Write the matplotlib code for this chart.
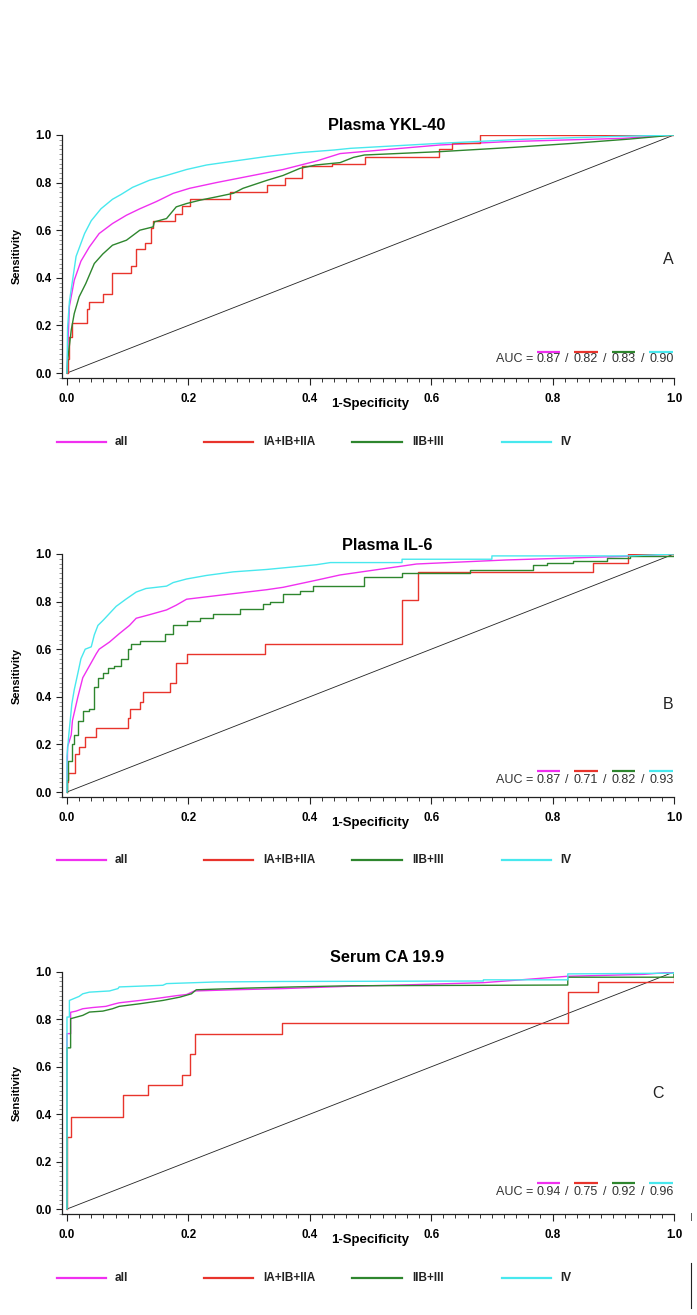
import matplotlib
matplotlib.use('Agg')
import matplotlib.pyplot as plt
from matplotlib.lines import Line2D
from matplotlib.ticker import MultipleLocator, FixedLocator

# ---------------- data ----------------
series_names = ['all', 'IA+IB+IIA', 'IIB+III', 'IV']
series_colors = ['#f030f0', '#e8342c', '#2e862e', '#48e8ee']
panel_titles = ['Plasma YKL-40', 'Plasma IL-6', 'Serum CA 19.9']
panel_letters = ['A', 'B', 'C']
x_ticks = [0.0, 0.2, 0.4, 0.6, 0.8, 1.0]
y_ticks = [0.0, 0.2, 0.4, 0.6, 0.8, 1.0]

auc_A = [0.87, 0.82, 0.83, 0.90]
auc_B = [0.87, 0.71, 0.82, 0.93]
auc_C = [0.94, 0.75, 0.92, 0.96]

# Panel A: Plasma YKL-40
A_all_fpr = [0, 0.002, 0.004, 0.012, 0.023, 0.037, 0.053, 0.075, 0.098, 0.12, 0.147, 0.175, 0.202,
             0.246, 0.30, 0.356, 0.41, 0.45, 0.614, 0.724, 0.916, 1.0]
A_all_tpr = [0, 0.15, 0.28, 0.39, 0.47, 0.53, 0.586, 0.628, 0.663, 0.69, 0.72, 0.755, 0.776,
             0.80, 0.827, 0.855, 0.89, 0.922, 0.958, 0.972, 0.986, 1.0]
A_early_fpr = [0, 0.001, 0.004, 0.009, 0.033, 0.037, 0.059, 0.074, 0.106, 0.114, 0.128, 0.139, 0.142,
               0.178, 0.19, 0.202, 0.268, 0.329, 0.359, 0.387, 0.436, 0.491, 0.613, 0.635, 0.68, 1.0]
A_early_tpr = [0, 0.06, 0.15, 0.21, 0.27, 0.30, 0.33, 0.42, 0.45, 0.52, 0.545, 0.61, 0.64,
               0.67, 0.70, 0.73, 0.76, 0.79, 0.82, 0.87, 0.88, 0.909, 0.94, 0.965, 1.0, 1.0]
A_mid_fpr = [0, 0.001, 0.007, 0.012, 0.02, 0.031, 0.045, 0.059, 0.075, 0.098, 0.12, 0.142, 0.144,
             0.164, 0.18, 0.197, 0.219, 0.246, 0.274, 0.29, 0.33, 0.356, 0.384, 0.41, 0.45, 0.472,
             0.49, 0.614, 0.735, 0.834, 0.927, 1.0]
A_mid_tpr = [0, 0.05, 0.18, 0.25, 0.32, 0.376, 0.46, 0.50, 0.537, 0.558, 0.60, 0.614, 0.635,
             0.649, 0.698, 0.712, 0.726, 0.74, 0.755, 0.776, 0.81, 0.83, 0.86, 0.874, 0.884, 0.906,
             0.916, 0.93, 0.948, 0.965, 0.983, 1.0]
A_iv_fpr = [0, 0.001, 0.004, 0.015, 0.029, 0.04, 0.056, 0.075, 0.089, 0.108, 0.136, 0.164, 0.197,
            0.23, 0.274, 0.33, 0.384, 0.44, 0.467, 0.614, 0.751, 0.889, 1.0]
A_iv_tpr = [0, 0.19, 0.30, 0.49, 0.586, 0.64, 0.69, 0.73, 0.75, 0.78, 0.81, 0.83, 0.855,
            0.874, 0.89, 0.91, 0.926, 0.937, 0.944, 0.965, 0.982, 0.993, 1.0]

# Panel B: Plasma IL-6
B_all_fpr = [0, 0.001, 0.007, 0.009, 0.018, 0.026, 0.037, 0.048, 0.053, 0.070, 0.086, 0.103, 0.114,
             0.136, 0.164, 0.18, 0.197, 0.246, 0.329, 0.356, 0.411, 0.45, 0.576, 0.724, 0.916, 1.0]
B_all_tpr = [0, 0.19, 0.24, 0.30, 0.40, 0.48, 0.53, 0.58, 0.60, 0.63, 0.665, 0.70, 0.73,
             0.745, 0.765, 0.785, 0.81, 0.825, 0.85, 0.86, 0.89, 0.912, 0.958, 0.975, 0.99, 1.0]
B_early_fpr = [0, 0.0, 0.001, 0.014, 0.020, 0.030, 0.048, 0.100, 0.104, 0.120, 0.126, 0.169, 0.179,
               0.197, 0.326, 0.552, 0.579, 0.867, 0.925, 1.0]
B_early_tpr = [0, 0.04, 0.08, 0.16, 0.19, 0.23, 0.27, 0.31, 0.35, 0.38, 0.42, 0.46, 0.54,
               0.58, 0.62, 0.807, 0.923, 0.961, 1.0, 1.0]
B_mid_fpr = [0, 0.0, 0.001, 0.008, 0.012, 0.018, 0.026, 0.037, 0.045, 0.051, 0.059, 0.067, 0.078,
             0.089, 0.10, 0.106, 0.12, 0.161, 0.175, 0.197, 0.219, 0.241, 0.285, 0.323, 0.334,
             0.356, 0.384, 0.406, 0.49, 0.552, 0.664, 0.768, 0.79, 0.834, 0.889, 0.927, 1.0]
B_mid_tpr = [0, 0.05, 0.13, 0.20, 0.24, 0.30, 0.34, 0.35, 0.44, 0.48, 0.50, 0.52, 0.53,
             0.56, 0.60, 0.62, 0.635, 0.665, 0.70, 0.72, 0.73, 0.75, 0.77, 0.79, 0.80,
             0.83, 0.845, 0.865, 0.905, 0.919, 0.933, 0.954, 0.963, 0.971, 0.982, 0.99, 1.0]
B_iv_fpr = [0, 0.0, 0.003, 0.008, 0.012, 0.018, 0.023, 0.030, 0.040, 0.045, 0.051, 0.059, 0.070,
            0.081, 0.097, 0.114, 0.13, 0.164, 0.175, 0.197, 0.23, 0.274, 0.329, 0.411, 0.434,
            0.552, 0.552, 0.70, 0.70, 0.927, 1.0]
B_iv_tpr = [0, 0.15, 0.24, 0.37, 0.43, 0.50, 0.56, 0.60, 0.61, 0.66, 0.70, 0.72, 0.75,
            0.78, 0.81, 0.84, 0.855, 0.865, 0.88, 0.895, 0.91, 0.925, 0.935, 0.955, 0.964,
            0.964, 0.978, 0.978, 0.992, 0.992, 1.0]

# Panel C: Serum CA 19.9
C_all_fpr = [0, 0.0, 0.006, 0.006, 0.015, 0.026, 0.042, 0.064, 0.078, 0.086, 0.12, 0.152, 0.18,
             0.197, 0.21, 0.274, 0.356, 0.467, 0.549, 0.686, 0.825, 0.95, 1.0]
C_all_tpr = [0, 0.74, 0.74, 0.83, 0.835, 0.845, 0.85, 0.855, 0.865, 0.87, 0.88, 0.89, 0.90,
             0.905, 0.92, 0.925, 0.93, 0.94, 0.945, 0.955, 0.982, 0.99, 1.0]
C_early_fpr = [0, 0.0, 0.0066, 0.092, 0.133, 0.19, 0.202, 0.2105, 0.354, 0.825, 0.874, 1.0]
C_early_tpr = [0, 0.305, 0.39, 0.48, 0.524, 0.566, 0.655, 0.739, 0.786, 0.917, 0.959, 1.0]
C_mid_fpr = [0, 0.0, 0.006, 0.006, 0.026, 0.037, 0.059, 0.075, 0.086, 0.12, 0.158, 0.186, 0.205,
             0.213, 0.296, 0.373, 0.467, 0.825, 0.825, 1.0, 1.0]
C_mid_tpr = [0, 0.68, 0.68, 0.803, 0.817, 0.831, 0.835, 0.845, 0.855, 0.866, 0.88, 0.894, 0.908,
             0.925, 0.932, 0.937, 0.942, 0.945, 0.978, 0.978, 1.0]
C_iv_fpr = [0, 0.0, 0.004, 0.004, 0.02, 0.026, 0.037, 0.07, 0.084, 0.086, 0.158, 0.164, 0.246,
            0.356, 0.686, 0.686, 0.825, 0.825, 1.0, 1.0]
C_iv_tpr = [0, 0.81, 0.81, 0.88, 0.897, 0.908, 0.915, 0.92, 0.93, 0.937, 0.944, 0.951, 0.958,
            0.96, 0.962, 0.967, 0.967, 0.992, 0.995, 1.0]

panels = [
    dict(curves=[(A_all_fpr, A_all_tpr, 'default'), (A_early_fpr, A_early_tpr, 'steps-post'),
                 (A_mid_fpr, A_mid_tpr, 'default'), (A_iv_fpr, A_iv_tpr, 'default')], auc=auc_A),
    dict(curves=[(B_all_fpr, B_all_tpr, 'default'), (B_early_fpr, B_early_tpr, 'steps-post'),
                 (B_mid_fpr, B_mid_tpr, 'steps-post'), (B_iv_fpr, B_iv_tpr, 'default')], auc=auc_B),
    dict(curves=[(C_all_fpr, C_all_tpr, 'default'), (C_early_fpr, C_early_tpr, 'steps-post'),
                 (C_mid_fpr, C_mid_tpr, 'default'), (C_iv_fpr, C_iv_tpr, 'default')], auc=auc_C),
]

# ---------------- layout ----------------
W, H = 697, 1315
fig = plt.figure(figsize=(W / 100, H / 100), dpi=100)
fig.patch.set_facecolor('white')

# axes boxes in pixels: (top, bottom)
boxes = [(135, 378), (554, 797), (972, 1214)]
left_px, right_px = 62, 674
title_y = [1.020, 1.016, 1.043]
letter_pos = [(0.99, 0.478), (0.99, 0.366), (0.974, 0.489)]
auc_text_y = [0.058, 0.050, 0.072]
auc_bar_y = [0.088, 0.088, 0.109]
legend_y_px = [442, 860, 1278]

num_centers = [0.793, 0.855, 0.917, 0.979]
slash_centers = [0.824, 0.886, 0.948]

bold_font = ['Liberation Sans', 'DejaVu Sans']

for i, p in enumerate(panels):
    top, bot = boxes[i]
    ax = fig.add_axes([left_px / W, 1 - bot / H, (right_px - left_px) / W, (bot - top) / H])
    ax.set_xlim(-0.0082, 1.0)
    ax.set_ylim(-0.021, 1.0)
    for s in ['top', 'right']:
        ax.spines[s].set_visible(False)
    for s in ['left', 'bottom']:
        ax.spines[s].set_linewidth(0.9)
        ax.spines[s].set_color('#222222')

    # diagonal reference
    ax.plot([0, 1], [0, 1], color='#222222', lw=0.6, zorder=2)

    for (fx, ty, ds), col in zip(p['curves'], series_colors):
        ax.plot(fx, ty, color=col, lw=1.0, drawstyle=ds, zorder=3)

    ax.xaxis.set_major_locator(FixedLocator(x_ticks))
    ax.yaxis.set_major_locator(FixedLocator(y_ticks))
    ax.xaxis.set_minor_locator(MultipleLocator(0.02))
    ax.yaxis.set_minor_locator(MultipleLocator(0.02))
    ax.set_xticklabels([f'{v:.1f}' for v in x_ticks], fontfamily=bold_font, fontweight='bold', fontsize=8.4)
    ax.set_yticklabels([f'{v:.1f}' for v in y_ticks], fontfamily=bold_font, fontweight='bold', fontsize=8.4)
    ax.tick_params(axis='x', which='major', length=4.8, width=0.8, pad=6.2, color='#222222')
    ax.tick_params(axis='x', which='minor', length=3.0, width=0.7, color='#333333')
    ax.tick_params(axis='y', which='major', length=4.3, width=0.8, pad=3.4, color='#222222')
    ax.tick_params(axis='y', which='minor', length=2.0, width=0.6, color='#888888')

    ax.set_xlabel('1-Specificity', fontfamily=bold_font, fontweight='bold', fontsize=9.5)
    ax.xaxis.set_label_coords(0.504, -0.082)
    ax.set_ylabel('Sensitivity', fontfamily=bold_font, fontweight='bold', fontsize=8)
    ax.yaxis.set_label_coords(-0.0735, 0.5)
    ax.yaxis.label.set_va('center')

    ax.text(0.531, title_y[i], panel_titles[i], transform=ax.transAxes, ha='center', va='baseline',
            fontfamily=bold_font, fontweight='bold', fontsize=11.7)
    lx, ly = letter_pos[i]
    ax.text(lx, ly, panel_letters[i], ha='center', va='center', fontfamily=['Liberation Sans'],
            fontsize=11.5, color='#222222')

    # AUC annotation
    ty_ = auc_text_y[i]
    by_ = auc_bar_y[i]
    ax.text(0.768, ty_, 'AUC =', ha='right', va='center', fontfamily=['Liberation Sans'], fontsize=9,
            color='#333333')
    for v, cx, col in zip(p['auc'], num_centers, series_colors):
        ax.text(cx, ty_, f'{v:.2f}', ha='center', va='center', fontfamily=['Liberation Sans'],
                fontsize=9, color='#333333')
        ax.plot([cx - 0.0195, cx + 0.0195], [by_, by_], color=col, lw=1.6, solid_capstyle='butt')
    for cx in slash_centers:
        ax.text(cx, ty_, '/', ha='center', va='center', fontfamily=['Liberation Sans'], fontsize=9,
                color='#333333')

    # legend row (manual, below the axes)
    yl = 1 - legend_y_px[i] / H
    seg_x = [(57, 106), (204, 253), (352, 402), (502, 551)]
    txt_x = [115, 263, 412, 560]
    for (x0, x1), tx, name, col in zip(seg_x, txt_x, series_names, series_colors):
        fig.add_artist(Line2D([x0 / W, x1 / W], [yl, yl], color=col, lw=1.6))
        fig.text(tx / W, yl, name, ha='left', va='center',
                 fontfamily=['Liberation Sans Narrow', 'Liberation Sans'], fontweight='bold',
                 fontsize=8.5, color='#222222')

# small stray marks at the bottom right of the original figure
fig.add_artist(Line2D([691 / W, 691 / W], [1 - 1263 / H, 1 - 1308 / H], color='#222222', lw=0.8))
fig.add_artist(Line2D([691 / W, 691 / W], [1 - 1213 / H, 1 - 1220 / H], color='#555555', lw=0.7))

fig.savefig('out.png', dpi=100, facecolor='white')
